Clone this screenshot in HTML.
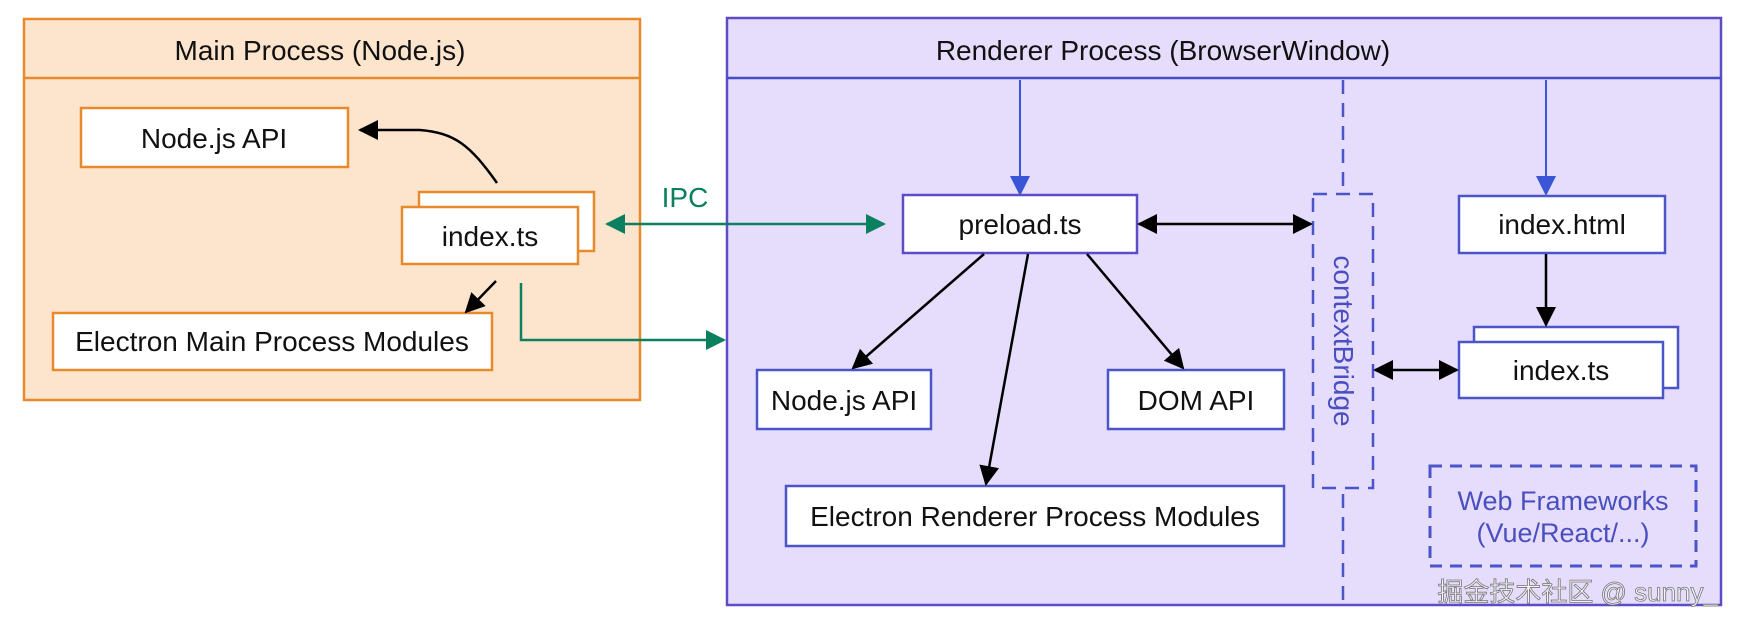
<!DOCTYPE html>
<html><head><meta charset="utf-8"><style>
html,body{margin:0;padding:0;background:#fff;}
svg{display:block;}
text{font-family:"Liberation Sans","Noto Sans CJK SC",sans-serif;}
</style></head><body>
<svg width="1742" height="626" viewBox="0 0 1742 626" xmlns="http://www.w3.org/2000/svg">
<defs>
<marker id="abk" viewBox="0 0 10 10" refX="9" refY="5" markerWidth="20" markerHeight="20" markerUnits="userSpaceOnUse" orient="auto-start-reverse"><path d="M0,0 L10,5 L0,10 z" fill="#000"/></marker>
<marker id="ag" viewBox="0 0 10 10" refX="9" refY="5" markerWidth="20" markerHeight="20" markerUnits="userSpaceOnUse" orient="auto-start-reverse"><path d="M0,0 L10,5 L0,10 z" fill="#0a8060"/></marker>
<marker id="abl" viewBox="0 0 10 10" refX="9" refY="5" markerWidth="20" markerHeight="20" markerUnits="userSpaceOnUse" orient="auto-start-reverse"><path d="M0,0 L10,5 L0,10 z" fill="#3a55d6"/></marker>
</defs>

<rect x="24" y="19" width="616" height="381" fill="#fde4cd" stroke="#e8892c" stroke-width="2.5"/>
<line x1="24" y1="78" x2="640" y2="78" stroke="#e8892c" stroke-width="2.5"/>
<text x="320" y="60" font-size="28" text-anchor="middle" fill="#111">Main Process (Node.js)</text>

<rect x="81" y="108" width="267" height="59" fill="#fff" stroke="#e8892c" stroke-width="2.5"/>
<text x="214" y="148" font-size="28" text-anchor="middle" fill="#111">Node.js API</text>

<rect x="419" y="192" width="175" height="59" fill="#fff" stroke="#e8892c" stroke-width="2.5"/>
<rect x="402" y="207" width="176" height="57" fill="#fff" stroke="#e8892c" stroke-width="2.5"/>
<text x="490" y="246" font-size="28" text-anchor="middle" fill="#111">index.ts</text>

<rect x="53" y="313" width="439" height="57" fill="#fff" stroke="#e8892c" stroke-width="2.5"/>
<text x="272" y="351" font-size="28" text-anchor="middle" fill="#111">Electron Main Process Modules</text>

<path d="M497,183 C470,145 455,133 420,130 L360,130" fill="none" stroke="#000" stroke-width="2.5" marker-end="url(#abk)"/>
<line x1="496" y1="281" x2="466" y2="312" stroke="#000" stroke-width="2.5" marker-end="url(#abk)"/>

<rect x="727" y="18" width="994" height="587" fill="#e6ddfc" stroke="#5c4cc6" stroke-width="2.5"/>
<line x1="727" y1="78" x2="1721" y2="78" stroke="#3f4fc8" stroke-width="2.5"/>
<text x="1163" y="60" font-size="28" text-anchor="middle" fill="#111">Renderer Process (BrowserWindow)</text>

<line x1="607" y1="224" x2="884" y2="224" stroke="#0a8060" stroke-width="2.5" marker-start="url(#ag)" marker-end="url(#ag)"/>
<text x="685" y="207" font-size="28" text-anchor="middle" fill="#0a8060">IPC</text>
<polyline points="521,283 521,340 724,340" fill="none" stroke="#0a8060" stroke-width="2.5" marker-end="url(#ag)"/>

<line x1="1343" y1="80" x2="1343" y2="604" stroke="#4a55c8" stroke-width="2.5" stroke-dasharray="14,9"/>
<rect x="1313" y="194" width="60" height="294" fill="#e6ddfc" stroke="#4a55c8" stroke-width="2.5" stroke-dasharray="14,9"/>
<text transform="translate(1334,341) rotate(90)" font-size="28" text-anchor="middle" fill="#4a4fc0">contextBridge</text>

<line x1="1020" y1="80" x2="1020" y2="194" stroke="#3a55d6" stroke-width="2" marker-end="url(#abl)"/>
<line x1="1546" y1="80" x2="1546" y2="194" stroke="#3a55d6" stroke-width="2" marker-end="url(#abl)"/>

<rect x="903" y="195" width="234" height="58" fill="#fff" stroke="#5c4cc6" stroke-width="2.5"/>
<text x="1020" y="234" font-size="28" text-anchor="middle" fill="#111">preload.ts</text>

<rect x="1459" y="196" width="206" height="57" fill="#fff" stroke="#4a55c8" stroke-width="2.5"/>
<text x="1562" y="234" font-size="28" text-anchor="middle" fill="#111">index.html</text>

<rect x="1474" y="327" width="204" height="61" fill="#fff" stroke="#4a55c8" stroke-width="2.5"/>
<rect x="1459" y="342" width="204" height="56" fill="#fff" stroke="#4a55c8" stroke-width="2.5"/>
<text x="1561" y="380" font-size="28" text-anchor="middle" fill="#111">index.ts</text>

<rect x="757" y="370" width="174" height="59" fill="#fff" stroke="#4a55c8" stroke-width="2.5"/>
<text x="844" y="410" font-size="28" text-anchor="middle" fill="#111">Node.js API</text>

<rect x="1108" y="370" width="176" height="59" fill="#fff" stroke="#4a55c8" stroke-width="2.5"/>
<text x="1196" y="410" font-size="28" text-anchor="middle" fill="#111">DOM API</text>

<rect x="786" y="486" width="498" height="60" fill="#fff" stroke="#4a55c8" stroke-width="2.5"/>
<text x="1035" y="526" font-size="28" text-anchor="middle" fill="#111">Electron Renderer Process Modules</text>

<line x1="1139" y1="224" x2="1311" y2="224" stroke="#000" stroke-width="2.5" marker-start="url(#abk)" marker-end="url(#abk)"/>
<line x1="1375" y1="370" x2="1457" y2="370" stroke="#000" stroke-width="2.5" marker-start="url(#abk)" marker-end="url(#abk)"/>
<line x1="1546" y1="254" x2="1546" y2="325" stroke="#000" stroke-width="2.5" marker-end="url(#abk)"/>
<line x1="984" y1="254" x2="853" y2="368" stroke="#000" stroke-width="2.5" marker-end="url(#abk)"/>
<line x1="1028" y1="254" x2="986" y2="484" stroke="#000" stroke-width="2.5" marker-end="url(#abk)"/>
<line x1="1087" y1="254" x2="1183" y2="368" stroke="#000" stroke-width="2.5" marker-end="url(#abk)"/>

<rect x="1430" y="466" width="266" height="100" fill="none" stroke="#4a55c8" stroke-width="3" stroke-dasharray="12,8"/>
<text x="1563" y="510" font-size="27" text-anchor="middle" fill="#4a4fc0">Web Frameworks</text>
<text x="1563" y="542" font-size="27" text-anchor="middle" fill="#4a4fc0">(Vue/React/...)</text>

<text x="1718" y="601" font-size="26" text-anchor="end" fill="#f4f2f8" stroke="#777" stroke-width="0.8">掘金技术社区 @ sunny_</text>
</svg>
</body></html>
